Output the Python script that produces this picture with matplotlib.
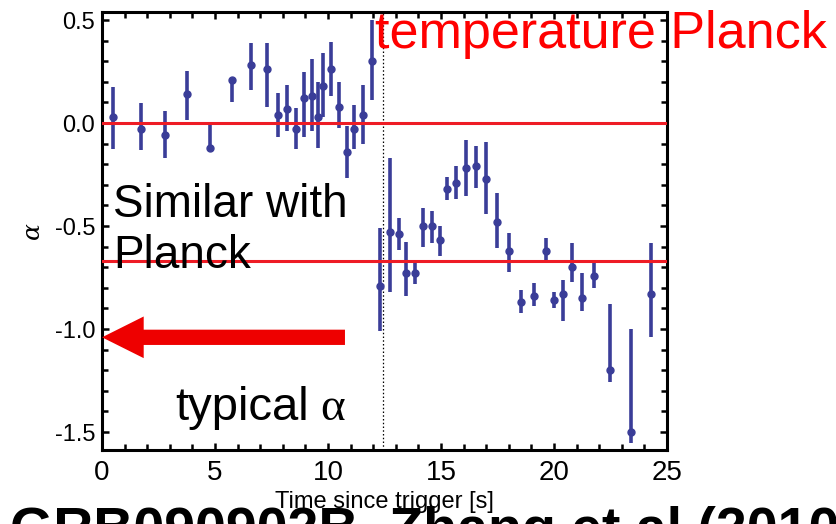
import matplotlib
matplotlib.use('Agg')
import matplotlib.pyplot as plt
from matplotlib.ticker import MultipleLocator

# time since trigger [s]
t = [0.5, 1.74, 2.8, 3.75, 4.78, 5.74, 6.58, 7.29, 7.77, 8.17, 8.57, 8.95,
     9.28, 9.54, 9.79, 10.12, 10.5, 10.83, 11.15, 11.54, 11.93,
     12.3, 12.74, 13.14, 13.45, 13.84, 14.22, 14.6, 14.94, 15.28, 15.66,
     16.1, 16.55, 16.99, 17.49, 18.02, 18.54, 19.12, 19.65, 20.0, 20.38,
     20.78, 21.23, 21.77, 22.48, 23.4, 24.28]
alpha = [0.03, -0.03, -0.06, 0.14, -0.12, 0.21, 0.28, 0.26, 0.04, 0.07, -0.03, 0.12,
         0.13, 0.03, 0.18, 0.26, 0.08, -0.14, -0.03, 0.04, 0.30,
         -0.79, -0.53, -0.54, -0.73, -0.73, -0.50, -0.50, -0.57, -0.32, -0.29,
         -0.22, -0.21, -0.27, -0.48, -0.62, -0.87, -0.84, -0.62, -0.86, -0.83,
         -0.70, -0.85, -0.74, -1.20, -1.50, -0.83]
err_lo = [0.155, 0.10, 0.11, 0.125, 0.01, 0.11, 0.12, 0.18, 0.11, 0.11, 0.095, 0.19,
          0.17, 0.15, 0.15, 0.13, 0.105, 0.125, 0.095, 0.14, 0.19,
          0.22, 0.29, 0.075, 0.11, 0.05, 0.10, 0.08, 0.075, 0.055, 0.08,
          0.135, 0.105, 0.17, 0.125, 0.105, 0.05, 0.05, 0.045, 0.04, 0.13,
          0.07, 0.06, 0.06, 0.055, 0.055, 0.21]
err_hi = [0.145, 0.125, 0.12, 0.115, 0.11, 0.01, 0.11, 0.13, 0.105, 0.115, 0.105, 0.13,
          0.18, 0.17, 0.16, 0.135, 0.12, 0.125, 0.12, 0.145, 0.2,
          0.28, 0.36, 0.08, 0.155, 0.05, 0.09, 0.075, 0.07, 0.06, 0.08,
          0.14, 0.1, 0.18, 0.14, 0.085, 0.06, 0.065, 0.06, 0.04, 0.07,
          0.12, 0.12, 0.06, 0.32, 0.50, 0.25]

ref_lines = [0.0, -0.67]   # red horizontal lines
t_split = 12.42            # dotted vertical line
arrow_y = -1.04
arrow_tail = 10.75

plt.rcParams['font.family'] = ['Liberation Sans', 'DejaVu Sans']

fig = plt.figure(figsize=(8.37, 5.24), dpi=100)
ax = fig.add_axes([0.1219, 0.1412, 0.675, 0.8359])

ax.errorbar(t, alpha, yerr=[err_lo, err_hi], fmt='o', color='#3a3d98',
            ms=5, elinewidth=2.6, capsize=0, zorder=3)
for y in ref_lines:
    ax.axhline(y, color='#ee1c25', lw=2.2, zorder=4)
ax.axvline(t_split, color='black', lw=0.9, dashes=(1.2, 1.8), zorder=2)

ax.set_xlim(0, 25)
ax.set_ylim(-1.587, 0.539)
ax.xaxis.set_major_locator(MultipleLocator(5))
ax.xaxis.set_minor_locator(MultipleLocator(1))
ax.yaxis.set_major_locator(MultipleLocator(0.5))
ax.yaxis.set_minor_locator(MultipleLocator(0.1))
ax.yaxis.set_major_formatter(matplotlib.ticker.FormatStrFormatter('%.1f'))
ax.tick_params(which='both', direction='in', top=True, right=True, width=1.8)
ax.tick_params(which='major', length=5)
ax.tick_params(which='minor', length=4)
ax.tick_params(axis='y', labelsize=17, pad=5)
ax.tick_params(axis='x', labelsize=20, pad=7)
for sp in ax.spines.values():
    sp.set_linewidth(2.2)

ax.set_xlabel('Time since trigger [s]', fontsize=17, labelpad=4)
ax.set_ylabel('α', fontsize=18, family=['DejaVu Serif'], style='italic', labelpad=8)

ax.annotate('', xy=(0, arrow_y), xytext=(arrow_tail, arrow_y),
            arrowprops=dict(width=11, headwidth=30, headlength=30, shrink=0,
                            color='#ee0000', lw=0), annotation_clip=False)

fig.text(113 / 837, 1 - 268 / 524, 'Similar with\nPlanck', fontsize=33,
         va='baseline', linespacing=1.2)
fig.text(175 / 837, 1 - 420 / 524, 'typical', fontsize=34, va='baseline')
fig.text(320 / 837, 1 - 420 / 524, 'α', fontsize=34, va='baseline',
         family=['Liberation Serif', 'DejaVu Serif'])
fig.text(375 / 837, 1 - 48 / 524, 'temperature Planck', fontsize=37.5,
         color='#ff0000', va='baseline', zorder=10)
fig.text(10 / 837, -22 / 524, 'GRB090902B  Zhang et al (2010)', fontsize=40,
         weight='bold', va='baseline')

fig.savefig('out.png', dpi=100)
